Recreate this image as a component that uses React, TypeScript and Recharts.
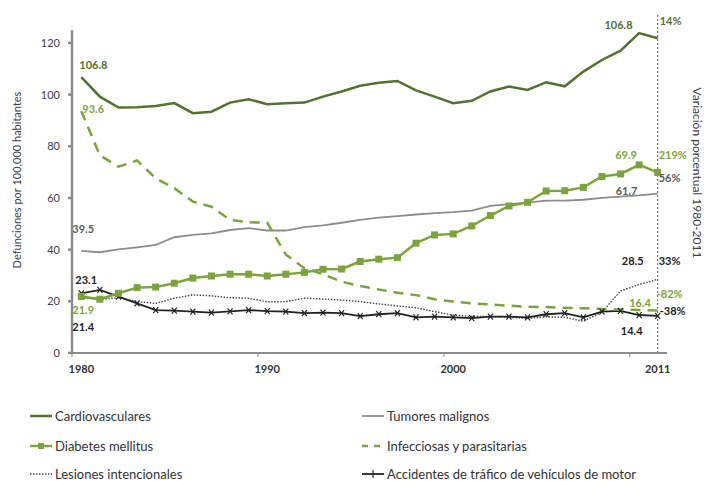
import { LineChart, Line, XAxis, YAxis, ReferenceLine } from 'recharts';

const years = [
  1980, 1981, 1982, 1983, 1984, 1985, 1986, 1987, 1988, 1989,
  1990, 1991, 1992, 1993, 1994, 1995, 1996, 1997, 1998, 1999,
  2000, 2001, 2002, 2003, 2004, 2005, 2006, 2007, 2008, 2009,
  2010, 2011,
];

const cardio = [
  106.8, 99.2, 95.0, 95.1, 95.6, 96.7, 92.8, 93.4, 96.9, 98.2,
  96.3, 96.7, 96.9, 99.2, 101.2, 103.4, 104.6, 105.3, 101.6, 99.2,
  96.7, 97.6, 101.2, 103.1, 101.8, 104.8, 103.2, 108.9, 113.4, 117.0,
  123.8, 121.8,
];
const tumores = [
  39.5, 39.0, 40.1, 40.9, 41.8, 44.8, 45.7, 46.3, 47.6, 48.3,
  47.4, 47.4, 48.7, 49.4, 50.4, 51.5, 52.4, 53.0, 53.6, 54.1,
  54.5, 55.1, 56.9, 57.6, 58.2, 59.0, 59.0, 59.3, 60.0, 60.5,
  61.0, 61.7,
];
const diabetes = [
  21.9, 20.8, 23.1, 25.3, 25.5, 27.0, 29.0, 29.8, 30.5, 30.5,
  29.8, 30.5, 31.2, 32.4, 32.5, 35.4, 36.3, 36.9, 42.5, 45.7,
  46.1, 49.2, 53.2, 56.9, 58.3, 62.7, 62.8, 64.1, 68.3, 69.3,
  72.8, 69.9,
];
const infecciosas = [
  93.6, 76.5, 72.1, 74.5, 67.6, 63.8, 58.6, 56.6, 51.5, 50.6,
  50.4, 38.1, 32.8, 30.5, 27.6, 25.9, 24.6, 23.3, 22.4, 20.8,
  19.9, 19.2, 18.8, 18.3, 17.9, 17.8, 17.5, 17.3, 17.0, 16.8,
  16.6, 16.4,
];
const lesiones = [
  21.4, 20.8, 21.4, 19.9, 19.2, 21.2, 22.5, 22.1, 21.4, 21.2,
  19.8, 19.9, 21.2, 20.9, 20.5, 19.9, 19.0, 18.2, 17.5, 16.0,
  14.7, 14.1, 14.1, 13.8, 13.4, 14.0, 13.8, 12.3, 15.8, 24.0,
  26.5, 28.5,
];
const accidentes = [
  23.1, 24.4, 21.8, 19.2, 16.6, 16.4, 16.0, 15.6, 16.1, 16.6,
  16.2, 16.0, 15.4, 15.6, 15.4, 14.3, 15.0, 15.4, 13.8, 14.1,
  13.8, 13.5, 14.1, 14.1, 13.8, 15.0, 15.4, 13.8, 16.0, 16.3,
  14.7, 14.4,
];

const yTicks = [0, 20, 40, 60, 80, 100, 120];
const xTicks = [1980, 1990, 2000, 2011];

// [point index, text]
const cardioNotes = [[0, '106.8'], [29, '106.8'], [31, '14%']];
const tumoresNotes = [[0, '39.5'], [29, '61.7'], [31, '56%']];
const diabetesNotes = [[0, '21.9'], [30, '69.9'], [31, '219%']];
const infecciosasNotes = [[0, '93.6'], [30, '16.4'], [31, '-82%']];
const lesionesNotes = [[0, '21.4'], [31, '28.5'], [31, '33%']];
const accidentesNotes = [[0, '23.1'], [31, '14.4'], [31, '-38%']];

const legendItems = [
  'Cardiovasculares', 'Tumores malignos', 'Diabetes mellitus',
  'Infecciosas y parasitarias', 'Lesiones intencionales',
  'Accidentes de tráfico de vehículos de motor',
];

const data = years.map((year, i) => ({
  year,
  cardio: cardio[i],
  tumores: tumores[i],
  diabetes: diabetes[i],
  infecciosas: infecciosas[i],
  lesiones: lesiones[i],
  accidentes: accidentes[i],
}));

const DARK_GREEN = '#557130';
const LIGHT_GREEN = '#7ba43c';
const GRAY = '#8c8c8c';
const BLACK = '#222222';
const FONT = 'Lato, "Open Sans", sans-serif';
const BAND = 595 / 32;

// placement of each note: [dx, dy, anchor]
type Place = [number, number, 'start' | 'middle' | 'end'];
const makeLabel = (notes: (number | string)[][], places: Place[], fill: string) => (props: any) => {
  const { x, y, index } = props;
  const hits = notes.map((n, k) => ({ n, k })).filter(({ n }) => n[0] === index);
  if (!hits.length) return <g />;
  return (
    <g>
      {hits.map(({ n, k }) => (
        <text
          key={k}
          x={x + places[k][0]}
          y={y + places[k][1]}
          textAnchor={places[k][2]}
          fill={fill}
          fontSize={11}
          fontWeight={700}
          fontFamily={FONT}
        >
          {n[1]}
        </text>
      ))}
    </g>
  );
};

const SquareDot = (props: any) => {
  const { cx, cy, index } = props;
  return <rect key={index} x={cx - 3.5} y={cy - 3.5} width={7} height={7} fill={LIGHT_GREEN} />;
};

const CrossDot = (props: any) => {
  const { cx, cy, index } = props;
  return (
    <path
      key={index}
      d={`M${cx - 2.5},${cy - 3}L${cx + 2.5},${cy + 3}M${cx - 2.5},${cy + 3}L${cx + 2.5},${cy - 3}`}
      stroke={BLACK}
      strokeWidth={1.2}
    />
  );
};

const XTick = (props: any) => {
  const { x, y, payload } = props;
  const markYear = payload.value === 2011 ? 2009.5 : payload.value - 0.5;
  const mx = x + (markYear - payload.value) * BAND;
  return (
    <g>
      <line x1={mx} x2={mx} y1={y - 8} y2={y - 4} stroke={GRAY} strokeWidth={1} />
      <text x={x} y={y + 12} textAnchor="middle" fontSize={11} fontWeight={700} fill="#333" fontFamily={FONT}>
        {payload.value}
      </text>
    </g>
  );
};

const LegendIcon = ({ kind }: { kind: number }) => {
  const common = { x1: 0, x2: 22, y1: 5, y2: 5 };
  return (
    <svg width={22} height={10} style={{ marginRight: 3 }}>
      {kind === 0 && <line {...common} stroke={DARK_GREEN} strokeWidth={2.5} />}
      {kind === 1 && <line {...common} stroke={GRAY} strokeWidth={1.8} />}
      {kind === 2 && (
        <>
          <line {...common} stroke={LIGHT_GREEN} strokeWidth={2.5} />
          <rect x={8} y={2} width={6} height={6} fill={LIGHT_GREEN} />
        </>
      )}
      {kind === 3 && <line {...common} stroke={LIGHT_GREEN} strokeWidth={2.5} strokeDasharray="6 6" />}
      {kind === 4 && <line {...common} stroke="#444" strokeWidth={1.4} strokeDasharray="1.5 1.5" />}
      {kind === 5 && (
        <>
          <line {...common} stroke={BLACK} strokeWidth={1.8} />
          <line x1={11} x2={11} y1={1} y2={9} stroke={BLACK} strokeWidth={1.2} />
        </>
      )}
    </svg>
  );
};

export default function App() {
  return (
    <div style={{ position: 'absolute', left: 0, top: 0, width: 713, height: 481, background: '#fff', fontFamily: FONT }}>
      <LineChart width={713} height={380} data={data} margin={{ top: 30, right: 46, bottom: 0, left: 32 }}>
        <XAxis
          dataKey="year"
          type="number"
          domain={[1979.5, 2011.5]}
          ticks={xTicks}
          allowDataOverflow
          height={27}
          stroke={GRAY}
          strokeWidth={2}
          tickLine={false}
          tick={<XTick />}
        />
        <YAxis
          domain={[0, 125]}
          ticks={yTicks}
          allowDataOverflow
          width={40}
          stroke={GRAY}
          strokeWidth={2.5}
          tickSize={4}
          tickMargin={8}
          tick={{ fontSize: 11, fill: '#3c3c50', fontFamily: FONT }}
        />
        <ReferenceLine
          segment={[{ x: 2011, y: 0 }, { x: 2011, y: 131.6 }]}
          ifOverflow="visible"
          stroke="#555"
          strokeWidth={1}
          strokeDasharray="2 2"
        />
        <Line
          dataKey="tumores"
          stroke={GRAY}
          strokeWidth={1.8}
          dot={false}
          isAnimationActive={false}
          label={makeLabel(tumoresNotes, [[-9, -18, 'start'], [6, -2, 'middle'], [1, -12, 'start']], '#5a5a5a')}
        />
        <Line
          dataKey="lesiones"
          stroke="#444"
          strokeWidth={1.4}
          strokeDasharray="1.5 1.5"
          dot={false}
          isAnimationActive={false}
          label={makeLabel(lesionesNotes, [[-9, 33, 'start'], [-25, -14, 'middle'], [1, -14, 'start']], BLACK)}
        />
        <Line
          dataKey="accidentes"
          stroke={BLACK}
          strokeWidth={1.8}
          dot={<CrossDot />}
          isAnimationActive={false}
          label={makeLabel(accidentesNotes, [[-6, -9, 'start'], [-26, 19, 'middle'], [2, -1, 'start']], BLACK)}
        />
        <Line
          dataKey="infecciosas"
          stroke={LIGHT_GREEN}
          strokeWidth={2.5}
          strokeDasharray="10 7"
          dot={false}
          isAnimationActive={false}
          label={makeLabel(infecciosasNotes, [[1, 2, 'start'], [1, -3, 'middle'], [-1, -13, 'start']], LIGHT_GREEN)}
        />
        <Line
          dataKey="diabetes"
          stroke={LIGHT_GREEN}
          strokeWidth={2.5}
          dot={<SquareDot />}
          isAnimationActive={false}
          label={makeLabel(diabetesNotes, [[-9, 18, 'start'], [-13, -6, 'middle'], [1, -13, 'start']], LIGHT_GREEN)}
        />
        <Line
          dataKey="cardio"
          stroke={DARK_GREEN}
          strokeWidth={2.5}
          dot={false}
          isAnimationActive={false}
          label={makeLabel(cardioNotes, [[-2, -8, 'start'], [-2, -22, 'middle'], [2, -13, 'start']], DARK_GREEN)}
        />
      </LineChart>

      <div
        style={{
          position: 'absolute', left: 16, top: 180, transform: 'translate(-50%, -50%) rotate(-90deg)',
          whiteSpace: 'nowrap', fontSize: 11, color: '#3c3c50',
        }}
      >
        Defunciones por 100,000 habitantes
      </div>
      <div
        style={{
          position: 'absolute', left: 697, top: 173, transform: 'translate(-50%, -50%) rotate(90deg)',
          whiteSpace: 'nowrap', fontSize: 12, color: '#3c3c50',
        }}
      >
        Variación porcentual 1980-2011
      </div>

      {legendItems.map((name, i) => (
        <div
          key={name}
          style={{
            position: 'absolute',
            left: i % 2 === 0 ? 30 : 362,
            top: [416, 446, 474][Math.floor(i / 2)] - 9,
            height: 18,
            display: 'flex',
            alignItems: 'center',
            fontSize: 13,
            color: '#333',
            whiteSpace: 'nowrap',
          }}
        >
          <LegendIcon kind={i} />
          {name}
        </div>
      ))}
    </div>
  );
}
